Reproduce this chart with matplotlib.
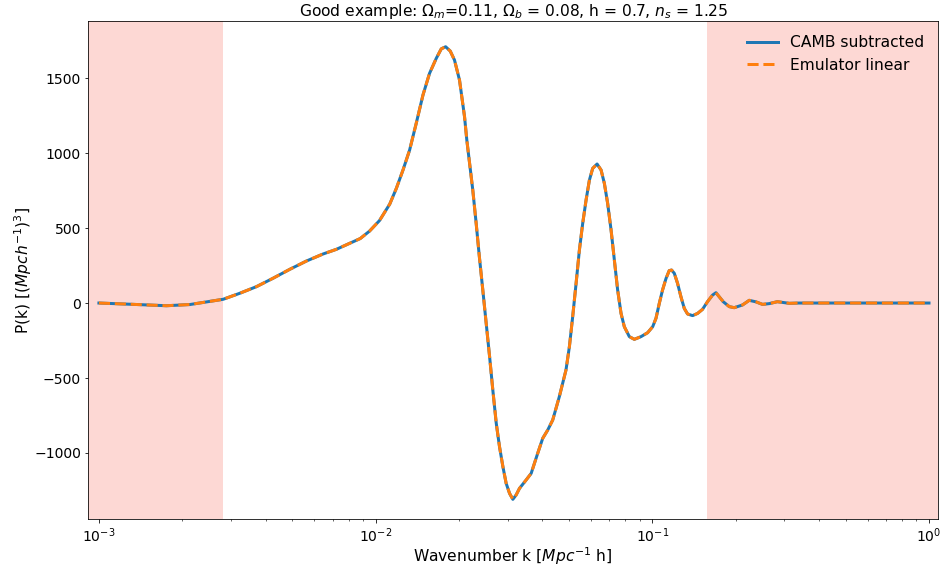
import matplotlib
matplotlib.use("Agg")
import matplotlib.pyplot as plt

# wavenumber k [h/Mpc] and P(k) residual
k_vals = [0.001, 0.001294, 0.001754, 0.002133, 0.002812, 0.003228, 0.003707,
          0.004257, 0.004898, 0.005622, 0.006457, 0.007211, 0.008054,
          0.008800, 0.009512, 0.01033, 0.01125, 0.01188, 0.01256, 0.01327,
          0.01402, 0.01483, 0.01566, 0.01656, 0.01727, 0.01791, 0.01861,
          0.01928, 0.02010, 0.02096, 0.02136, 0.02245, 0.02309, 0.02371,
          0.02440, 0.02510, 0.02582, 0.02652, 0.02729, 0.02804, 0.02884,
          0.02963, 0.03048, 0.03133, 0.03220, 0.03311, 0.03499, 0.03649,
          0.03853, 0.04018, 0.04188, 0.04366, 0.04613, 0.04875, 0.05016,
          0.05155, 0.05303, 0.05451, 0.05603, 0.05763, 0.05925, 0.06089,
          0.06316, 0.06529, 0.06710, 0.06897, 0.07095, 0.07292, 0.07494,
          0.07709, 0.07923, 0.08260, 0.08610, 0.09104, 0.09616, 0.1003,
          0.1031, 0.1060, 0.1089, 0.1121, 0.1151, 0.1174, 0.1201, 0.1234,
          0.1269, 0.1305, 0.1341, 0.1398, 0.1458, 0.1519, 0.1583, 0.1651,
          0.1698, 0.1804, 0.1897, 0.1977, 0.2118, 0.2240, 0.2368, 0.2502,
          0.2645, 0.2831, 0.3126, 0.3396, 0.45, 0.6, 0.8, 1.0]
camb_pk = [0, -8, -18, -10, 25, 65, 109,
           165, 225, 280, 327, 358, 398,
           430, 480, 550, 660, 764, 887, 1020,
           1198, 1387, 1531, 1631, 1695, 1709, 1680,
           1620, 1487, 1242, 1087, 753, 531, 309,
           87, -136, -358, -580, -802, -958, -1091,
           -1202, -1269, -1309, -1280, -1236, -1180, -1136,
           -1002, -902, -847, -780, -624, -447, -291,
           -91, 131, 353, 531, 687, 820, 898,
           927, 887, 798, 664, 487, 287, 87,
           -69, -158, -224, -242, -224, -198, -158,
           -102, -2, 87, 164, 216, 220, 198, 131,
           42, -36, -73, -84, -69, -42, 9, 53,
           69, 9, -24, -31, -13, 18, 8, -9,
           -4, 9, -2, 0, 0, 0, 0, 0]
emu_pk = list(camb_pk)

k_low, k_high = 0.0028, 0.157
title = (r"Good example: $\Omega_m$=0.11, $\Omega_b$ = 0.08, h = 0.7, "
         r"$n_s$ = 1.25")


def main():
    fig = plt.figure(figsize=(940 / 72, 570 / 72), dpi=72)
    ax = fig.add_axes([0.0936, 0.0895, 0.9043, 0.8735])
    xmin, xmax = 0.000913, 1.078
    ax.axvspan(xmin, k_low, color="salmon", alpha=0.3, lw=0)
    ax.axvspan(k_high, xmax, color="salmon", alpha=0.3, lw=0)
    ax.plot(k_vals, camb_pk, color="#1f77b4", lw=3, label="CAMB subtracted")
    ax.plot(k_vals, emu_pk, color="#ff7f0e", lw=3, ls="--",
            label="Emulator linear")
    ax.set_xscale("log")
    ax.set_xlim(xmin, xmax)
    ax.set_ylim(-1440, 1880)
    ax.set_xlabel(r"Wavenumber k [$Mpc^{-1}$ h]", fontsize=15.5, labelpad=1)
    ax.set_ylabel(r"P(k) [$(Mpch^{-1})^3$]", fontsize=15.5, labelpad=0)
    ax.set_title(title, fontsize=15.5, pad=4)
    ax.tick_params(labelsize=14)
    ax.legend(loc="upper right", frameon=False, fontsize=15.5)
    fig.savefig("out.png", dpi=72)


if __name__ == "__main__":
    main()
